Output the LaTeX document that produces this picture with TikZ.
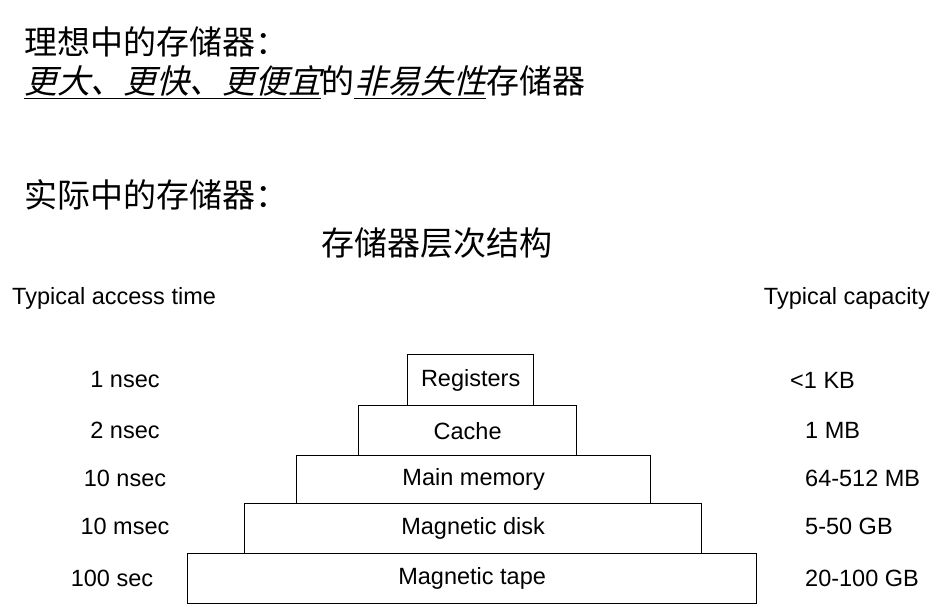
\documentclass[tikz,border=0pt]{standalone}
\usepackage{fontspec}
\setmainfont{Liberation Sans}
\newfontfamily\cjk{Noto Sans CJK SC}
\newfontfamily\cjksl[FakeSlant=0.25]{Noto Sans CJK SC}
\begin{document}
\begin{tikzpicture}[x=1pt,y=-1pt,
  lvl/.style={draw,line width=1.3pt,anchor=north west,inner sep=0pt,font=\fontsize{23.5}{26}\selectfont},
  lab/.style={font=\fontsize{23.5}{26}\selectfont},
  zh/.style={font=\cjk\fontsize{33}{38}\selectfont,anchor=west,inner sep=0pt}]
\useasboundingbox (0,0) rectangle (941,607);
\node[zh] (t1) at (24,42) {理想中的存储器：};
\node[zh] (t2) at (24,82) {{\cjksl\underline{更大、更快、更便宜}}的{\cjksl\underline{非易失性}}存储器};
\node[zh] (t3) at (24,195) {实际中的存储器：};
\node[zh,anchor=center] (t4) at (437,243) {存储器层次结构};
\node[lab,anchor=west,inner sep=0pt] (ha) at (12,298) {Typical access time};
\node[lab,anchor=east,inner sep=0pt] (hc) at (930,298) {Typical capacity};
\node[lvl,minimum width=126,minimum height=51] (reg) at (407,354) {Registers};
\node[lvl,minimum width=218,minimum height=50] (cac) at (358,405) {Cache};
\node[lvl,minimum width=354,minimum height=48] (mm) at (296,455) {Main memory};
\node[lvl,minimum width=457,minimum height=50] (md) at (244,503) {Magnetic disk};
\node[lvl,minimum width=569,minimum height=50] (mt) at (187,553) {Magnetic tape};
\node[lab] (l1) at (125,380) {1 nsec};
\node[lab] (l2) at (125,430) {2 nsec};
\node[lab] (l3) at (125,478) {10 nsec};
\node[lab] (l4) at (125,526) {10 msec};
\node[lab] (l5) at (112,578) {100 sec};
\node[lab,anchor=west,inner sep=0pt] (r1) at (790,380) {<1 KB};
\node[lab,anchor=west,inner sep=0pt] (r2) at (805,430) {1 MB};
\node[lab,anchor=west,inner sep=0pt] (r3) at (805,478) {64-512 MB};
\node[lab,anchor=west,inner sep=0pt] (r4) at (805,526) {5-50 GB};
\node[lab,anchor=west,inner sep=0pt] (r5) at (805,578) {20-100 GB};
\end{tikzpicture}
\end{document}
